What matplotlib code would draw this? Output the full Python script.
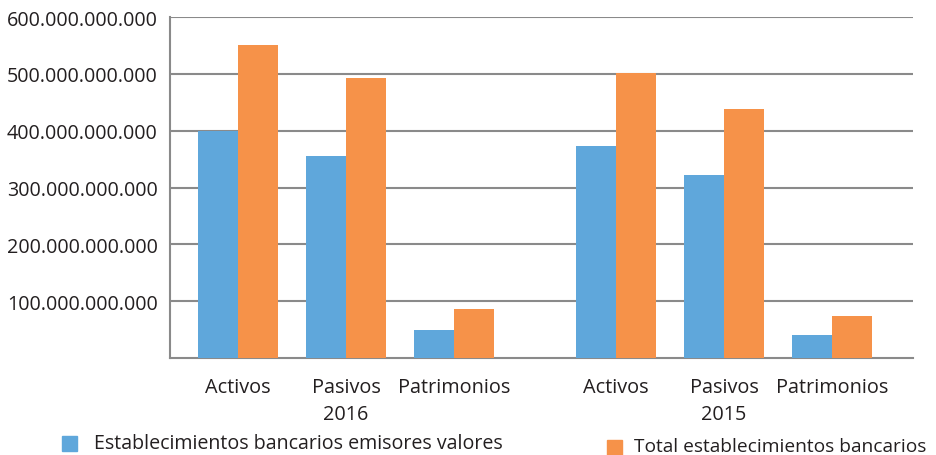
import matplotlib.pyplot as plt
from matplotlib.patches import Rectangle
from matplotlib.ticker import FuncFormatter

# data (values in pesos)
categories = ["Activos", "Pasivos", "Patrimonios", "Activos", "Pasivos", "Patrimonios"]
years = ["2016", "2015"]
emisores = [399e9, 355e9, 49e9, 373e9, 322e9, 40e9]
total = [551e9, 493e9, 86e9, 501e9, 438e9, 74e9]
series_names = ["Establecimientos bancarios emisores valores",
                "Total establecimientos bancarios"]

BLUE = "#5fa7db"
ORANGE = "#f69249"
GRID = "#8a8a8a"
TEXT = "#231f20"
plt.rcParams['font.family'] = ['Open Sans', 'DejaVu Sans']

fig = plt.figure(figsize=(9.36, 4.56), dpi=100)
W, H = 936, 456
ax = fig.add_axes([170 / W, (H - 359) / H, (913 - 170) / W, (359 - 18) / H])

pos = [0, 1, 2, 3.5, 4.5, 5.5]
bw = 0.372
ax.bar([p - bw / 2 for p in pos], emisores, width=bw, color=BLUE, zorder=3)
ax.bar([p + bw / 2 for p in pos], total, width=bw, color=ORANGE, zorder=3)

ax.set_xlim(-0.63, 6.25)
ax.set_ylim(0, 600e9)
ax.set_yticks([1e11, 2e11, 3e11, 4e11, 5e11, 6e11])
ax.yaxis.set_major_formatter(FuncFormatter(lambda v, _: f"{int(v):,}".replace(",", ".")))
ax.tick_params(axis='y', length=0, pad=9, labelsize=14.2, labelcolor=TEXT)
ax.grid(axis='y', color=GRID, linewidth=1.5, zorder=0)

ax.set_xticks(pos)
ax.set_xticklabels(categories)
ax.tick_params(axis='x', length=0, pad=14, labelsize=14.3, labelcolor=TEXT)

for s in ["top", "right"]:
    ax.spines[s].set_visible(False)
for s in ["left", "bottom"]:
    ax.spines[s].set_color(GRID)
    ax.spines[s].set_linewidth(1.5)

# year labels under the middle category of each group
for p, yr in zip([pos[1], pos[4]], years):
    ax.text(p, -0.165, yr, transform=ax.get_xaxis_transform(), ha='center', va='center',
            fontsize=14.3, color=TEXT)

# legend drawn by hand
fig.patches.append(Rectangle((62 / W, 1 - 452 / H), 15 / W, 15 / H,
                             transform=fig.transFigure, color=BLUE))
fig.text(94 / W, 1 - 444 / H, series_names[0], fontsize=14.1, color=TEXT, va='center')
fig.patches.append(Rectangle((607 / W, 1 - 456 / H), 15 / W, 15 / H,
                             transform=fig.transFigure, color=ORANGE))
fig.text(634 / W, 1 - 447 / H, series_names[1], fontsize=13.8, color=TEXT, va='center')

fig.savefig("out.png", dpi=100)
